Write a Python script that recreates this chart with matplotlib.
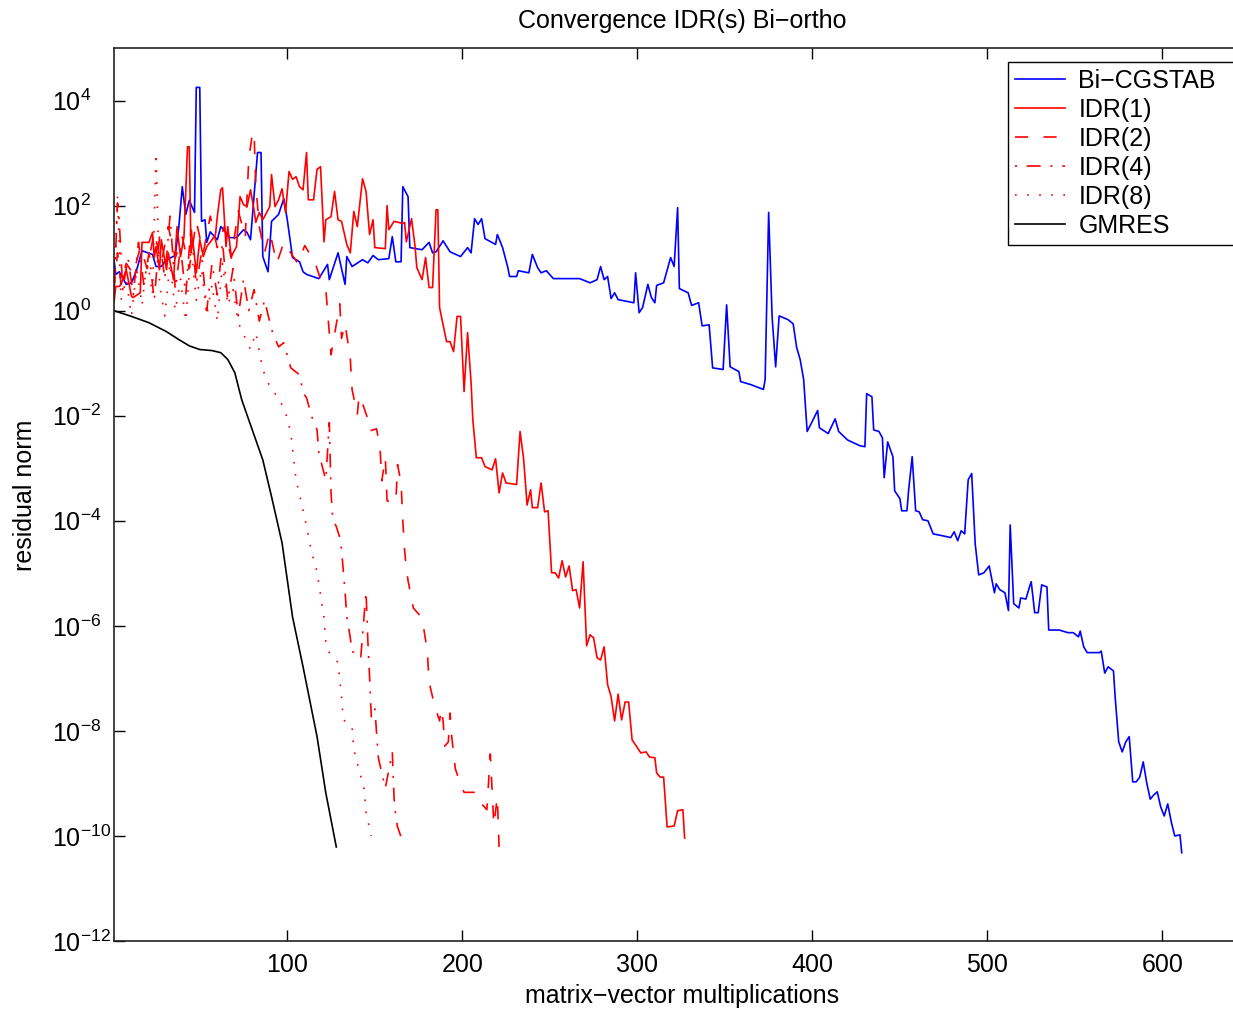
import numpy as np
import matplotlib
matplotlib.use("Agg")
import matplotlib.pyplot as plt
from matplotlib.ticker import NullLocator, FixedLocator, LogFormatterMathtext

plt.rcParams["font.family"] = ["Liberation Sans", "DejaVu Sans"]
plt.rcParams["mathtext.fontset"] = "custom"
plt.rcParams["mathtext.rm"] = "Liberation Sans"
plt.rcParams["mathtext.it"] = "Liberation Sans:italic"
plt.rcParams["mathtext.bf"] = "Liberation Sans:bold"
plt.rcParams["lines.scale_dashes"] = False

# (matrix-vector multiplications, log10 residual norm)
bicgstab = [
    (1, 0.97), (2, 0.69), (4, 0.74), (8, 0.50), (11, 0.53), (14, 0.78), (17, 1.14), (23, 1.07),
    (25, 0.84), (28, 0.84), (31, 0.97), (36, 1.05), (38, 1.58), (40, 2.36), (42, 1.83), (44, 2.10),
    (47, 1.87), (48, 4.25), (50, 4.25), (51, 1.70), (53, 1.73), (54, 1.30), (56, 1.50), (60, 1.35),
    (62, 1.60), (65, 1.49), (67, 1.39), (71, 1.39), (75, 1.54), (77, 1.49), (79, 1.35), (83, 3.01),
    (85, 3.01), (86, 1.03), (89, 0.74), (91, 1.70), (95, 1.83), (98, 2.13), (100, 1.73), (103, 1.01),
    (107, 0.93), (109, 0.74), (111, 0.69), (118, 0.61), (123, 0.88), (124, 0.59), (129, 1.10),
    (133, 0.50), (134, 1.03), (137, 0.84), (143, 0.97), (146, 0.91), (149, 1.05), (152, 0.97),
    (158, 0.99), (160, 1.41), (162, 0.93), (165, 0.93), (166, 2.36), (169, 2.17), (170, 1.20),
    (177, 1.16), (181, 1.30), (183, 1.10), (185, 1.12), (189, 1.33), (193, 1.12), (199, 1.03),
    (203, 1.20), (205, 1.10), (207, 1.75), (209, 1.64), (211, 1.75), (213, 1.37), (219, 1.26),
    (220, 1.45), (223, 1.20), (226, 0.82), (227, 0.65), (231, 0.65), (232, 0.76), (238, 0.72),
    (240, 1.07), (243, 0.82), (245, 0.72), (248, 0.76), (252, 0.61), (260, 0.61), (267, 0.61),
    (273, 0.53), (277, 0.59), (279, 0.84), (281, 0.59), (283, 0.65), (285, 0.23), (287, 0.34),
    (289, 0.21), (298, 0.15), (299, 0.72), (301, -0.04), (303, 0.06), (306, 0.50), (308, 0.25),
    (310, 0.15), (311, 0.48), (315, 0.53), (319, 1.01), (321, 0.84), (323, 1.96), (324, 0.42),
    (329, 0.34), (331, 0.10), (335, 0.15), (337, -0.29), (341, -0.27), (343, -1.09), (349, -1.12),
    (351, 0.11), (353, -1.07), (358, -1.16), (359, -1.35), (365, -1.41), (372, -1.50), (373, -1.31),
    (375, 1.87), (377, -0.13), (379, -1.07), (381, -0.10), (386, -0.17), (389, -0.25), (391, -0.70),
    (393, -0.93), (395, -1.31), (397, -2.30), (399, -2.17), (403, -1.90), (404, -2.23), (409, -2.34),
    (413, -2.06), (415, -2.30), (420, -2.46), (427, -2.57), (430, -2.59), (431, -1.58), (434, -1.64),
    (435, -2.27), (438, -2.30), (440, -2.42), (441, -3.18), (443, -2.50), (446, -2.78), (447, -3.43),
    (450, -3.58), (451, -3.81), (454, -3.81), (455, -3.41), (457, -2.78), (459, -3.81), (461, -3.83),
    (463, -3.98), (466, -4.00), (469, -4.25), (475, -4.29), (479, -4.32), (481, -4.21), (483, -4.38),
    (485, -4.19), (487, -4.25), (489, -3.22), (491, -3.10), (493, -4.44), (495, -5.03), (498, -4.99),
    (501, -4.86), (504, -5.37), (505, -5.20), (507, -5.31), (510, -5.37), (512, -5.71), (513, -4.08),
    (515, -5.58), (518, -5.66), (519, -5.47), (522, -5.49), (524, -5.26), (525, -5.16), (527, -5.75),
    (529, -5.75), (531, -5.22), (534, -5.26), (535, -6.08), (541, -6.08), (546, -6.13), (549, -6.13),
    (552, -6.21), (553, -6.10), (555, -6.40), (557, -6.51), (564, -6.51), (565, -6.48), (567, -6.90),
    (569, -6.78), (572, -6.86), (573, -7.37), (575, -8.21), (577, -8.40), (579, -8.21), (581, -8.11),
    (583, -8.97), (585, -8.97), (587, -8.88), (589, -8.59), (591, -8.99), (593, -9.30), (595, -9.22),
    (597, -9.16), (599, -9.45), (601, -9.62), (603, -9.39), (605, -9.73), (607, -10.00), (610, -9.98),
    (611, -10.32),
]

idr1 = [
    (1, 0.15), (2, 0.46), (4, 0.46), (5, 0.50), (8, 0.78), (11, 0.27), (12, 0.25), (16, 0.34),
    (17, 1.30), (21, 1.30), (23, 1.49), (24, 1.01), (25, 1.22), (27, 0.78), (28, 1.35), (31, 0.78),
    (32, 1.10), (35, 0.59), (37, 1.60), (39, 1.03), (41, 1.41), (43, 3.12), (44, 3.12), (45, 1.10),
    (46, 1.35), (48, 0.72), (50, 1.35), (52, 1.03), (54, 1.22), (57, 1.35), (59, 1.45), (60, 1.79),
    (62, 2.30), (63, 2.34), (65, 1.22), (66, 1.60), (68, 1.03), (71, 1.22), (73, 2.17), (75, 2.02),
    (77, 1.98), (79, 2.30), (81, 1.92), (82, 1.68), (84, 1.87), (86, 1.73), (90, 1.98), (91, 2.59),
    (93, 1.98), (95, 2.11), (97, 2.32), (99, 1.87), (101, 2.65), (103, 2.50), (105, 2.55),
    (107, 2.36), (109, 2.30), (111, 3.01), (112, 2.11), (115, 2.11), (117, 2.69), (119, 2.74),
    (121, 1.31), (122, 1.73), (125, 1.79), (127, 2.27), (129, 1.73), (131, 1.70), (134, 1.26),
    (136, 1.10), (138, 1.89), (140, 1.60), (143, 2.51), (145, 2.27), (147, 1.45), (149, 1.73),
    (150, 1.20), (156, 1.18), (157, 2.00), (158, 1.54), (161, 1.70), (166, 1.66), (167, 1.68),
    (168, 1.31), (171, 1.75), (173, 1.22), (174, 0.82), (177, 0.59), (179, 1.01), (181, 0.44),
    (183, 0.44), (185, 1.92), (186, 1.92), (187, 0.06), (189, -0.27), (191, -0.59), (193, -0.59),
    (195, -0.78), (197, -0.11), (199, -0.11), (201, -1.54), (203, -0.42), (205, -1.37), (206, -2.08),
    (208, -2.80), (211, -2.80), (213, -2.97), (217, -3.03), (219, -2.82), (221, -3.47), (223, -3.09),
    (225, -3.28), (231, -3.31), (233, -2.30), (235, -2.82), (237, -3.70), (239, -3.41), (240, -3.75),
    (243, -3.75), (245, -3.28), (247, -3.83), (249, -3.81), (251, -4.99), (253, -4.99), (255, -5.09),
    (257, -4.76), (259, -5.07), (261, -4.86), (263, -5.33), (265, -5.31), (267, -5.66), (269, -4.78),
    (271, -6.38), (273, -6.17), (275, -6.23), (277, -6.61), (279, -6.65), (281, -6.40), (283, -7.12),
    (285, -7.35), (287, -7.81), (289, -7.30), (291, -7.79), (293, -7.45), (295, -7.45), (297, -8.17),
    (300, -8.32), (302, -8.42), (305, -8.40), (307, -8.50), (310, -8.51), (311, -8.80), (313, -8.88),
    (315, -8.88), (317, -9.83), (321, -9.81), (323, -9.52), (326, -9.50), (327, -10.04),
]

idr2 = [
    (1, 0.40), (3, 1.10), (5, 0.50), (8, 0.90), (12, 0.70), (16, 1.20), (20, 0.80), (24, 1.50),
    (28, 0.90), (32, 1.60), (36, 1.00), (40, 1.40), (44, 0.80), (48, 1.70), (52, 1.10), (56, 1.80),
    (60, 1.20), (64, 1.60), (68, 1.00), (72, 1.90), (76, 1.40), (78, 2.90), (80, 3.35), (81, 3.40),
    (82, 2.40), (84, 1.60), (87, 1.10), (90, 1.50), (94, 0.90), (98, 1.30), (102, 1.10), (106, 0.90),
    (110, 1.24), (116, 0.90), (119, 0.60), (122, 0.41), (125, -0.84), (130, 0.13), (131, -0.53),
    (133, -0.25), (136, -0.91), (137, -1.50), (140, -1.98), (141, -1.62), (143, -1.77), (146, -2.06),
    (147, -2.29), (151, -2.25), (153, -2.61), (154, -3.24), (156, -2.80), (157, -3.62), (162, -3.66),
    (163, -2.93), (165, -3.28), (166, -4.00), (167, -4.55), (168, -4.91), (169, -5.14), (172, -5.66),
    (177, -5.85), (180, -6.48), (181, -7.07), (184, -7.50), (187, -7.81), (188, -7.58), (189, -7.81),
    (190, -8.29), (192, -8.21), (193, -7.66), (194, -8.13), (196, -8.72), (199, -9.02), (201, -9.17),
    (208, -9.17), (210, -9.35), (214, -9.50), (216, -8.44), (217, -9.12), (218, -9.79), (220, -9.26),
    (221, -10.21),
]

idr4 = [
    (1, 0.30), (3, 2.05), (4, 1.70), (6, 0.40), (9, 1.00), (12, 0.30), (15, 1.30), (18, 0.50),
    (21, 1.10), (24, 0.20), (27, 1.40), (30, 0.60), (33, 1.80), (36, 0.40), (39, 1.20), (42, 0.30),
    (45, 1.60), (48, 0.50), (51, 1.10), (54, 0.00), (57, 0.90), (60, 0.30), (63, 1.30), (66, 0.20),
    (69, 0.80), (72, -0.10), (75, 0.60), (78, 0.00), (81, 0.40), (84, -0.20), (87, 0.20),
    (91, -0.36), (95, -0.69), (98, -0.61), (102, -1.09), (107, -1.22), (109, -1.56), (111, -1.66),
    (114, -2.02), (117, -2.27), (118, -2.70), (120, -2.97), (122, -3.22), (124, -2.13), (125, -3.47),
    (126, -3.98), (128, -4.11), (130, -4.32), (131, -4.55), (133, -5.35), (134, -5.83), (136, -6.23),
    (137, -6.50), (141, -6.50), (142, -6.59), (145, -5.35), (146, -6.27), (147, -6.97), (148, -7.73),
    (150, -7.56), (152, -8.51), (156, -9.09), (160, -8.40), (161, -9.28), (162, -9.64), (163, -9.83),
    (165, -10.02),
]

idr8 = [
    (1, 0.30), (3, 2.20), (5, 0.20), (8, 0.60), (11, -0.10), (14, 0.80), (17, 0.10), (20, 1.00),
    (23, 0.30), (25, 3.00), (27, 0.50), (30, -0.10), (33, 0.90), (36, 0.00), (39, 0.60), (42, -0.20),
    (45, 1.20), (48, 0.20), (51, 0.80), (54, -0.10), (57, 0.50), (60, -0.20), (63, 0.90), (66, 0.10),
    (69, 0.40), (72, -0.23), (79, -0.74), (82, -0.42), (86, -1.12), (90, -1.45), (95, -1.66),
    (99, -1.94), (102, -2.32), (105, -3.22), (109, -3.79), (111, -4.11), (114, -4.61), (117, -4.97),
    (119, -5.41), (121, -5.85), (122, -6.30), (124, -6.51), (129, -6.70), (131, -7.35), (132, -7.79),
    (137, -7.92), (138, -8.36), (141, -8.74), (144, -9.12), (145, -9.56), (148, -10.00),
]

gmres = [
    (1, 0.00), (11, -0.11), (21, -0.23), (31, -0.40), (38, -0.55), (44, -0.67), (50, -0.74),
    (57, -0.76), (62, -0.80), (66, -0.93), (70, -1.18), (74, -1.70), (80, -2.27), (86, -2.84),
    (91, -3.54), (97, -4.42), (103, -5.83), (109, -6.78), (117, -8.11), (122, -9.18), (128, -10.21),
]

series = [
    ("Bi\u2212CGSTAB", bicgstab, "blue", "-"),
    ("IDR(1)", idr1, "red", "-"),
    ("IDR(2)", idr2, "red", (0, (9.5, 11))),
    ("IDR(4)", idr4, "red", (0, (1.5, 7, 10, 7))),
    ("IDR(8)", idr8, "red", (0, (1.2, 7.5))),
    ("GMRES", gmres, "black", "-"),
]

W, H = 1233, 1010
fig = plt.figure(figsize=(W / 100, H / 100), dpi=100)
ax = fig.add_axes([114 / W, (H - 941) / H, (1250 - 114) / W, (941 - 48) / H])

for label, pts, color, ls in series:
    xs = np.array([p[0] for p in pts])
    ys = 10.0 ** np.array([p[1] for p in pts])
    ax.plot(xs, ys, color=color, linestyle=ls, linewidth=1.2, label=label)

ax.set_yscale("log")
ax.set_xlim(1, 650)
ax.set_ylim(1e-12, 1e5)
ax.xaxis.set_major_locator(FixedLocator([100, 200, 300, 400, 500, 600]))
ax.yaxis.set_major_locator(FixedLocator([10.0 ** k for k in range(-12, 5, 2)]))
ax.yaxis.set_major_formatter(LogFormatterMathtext())
ax.yaxis.set_minor_locator(NullLocator())
ax.xaxis.set_minor_locator(NullLocator())

ax.tick_params(direction="in", length=8, width=1.0, top=True, right=True,
               labelsize=18, colors="black")
ax.tick_params(axis="x", pad=9)
ax.tick_params(axis="y", pad=45)
for lab in ax.get_yticklabels():
    lab.set_horizontalalignment("left")
for sp in ax.spines.values():
    sp.set_linewidth(1.2)
    sp.set_color("#222222")

fig.text(682 / W, 1 - 21 / H, "Convergence IDR(s) Bi\u2212ortho", ha="center", va="center", fontsize=18)
fig.text(682 / W, 1 - 996 / H, "matrix\u2212vector multiplications", ha="center", va="center", fontsize=18)
fig.text(25 / W, 1 - 495 / H, "residual norm", ha="center", va="center", rotation=90, fontsize=18)

# legend box runs past the right edge of the picture, as in the original
leg = ax.legend(loc="upper left", mode="expand",
                bbox_to_anchor=(1008 / W, (H - 242) / H, (1250 - 1008) / W, (242 - 62) / H),
                bbox_transform=fig.transFigure, borderaxespad=0, fontsize=18,
                fancybox=False, edgecolor="black", framealpha=1,
                handlelength=1.98, handletextpad=0.56, labelspacing=0.2, borderpad=0.28)
leg.get_frame().set_linewidth(1.0)

fig.savefig("out.png", dpi=100)
